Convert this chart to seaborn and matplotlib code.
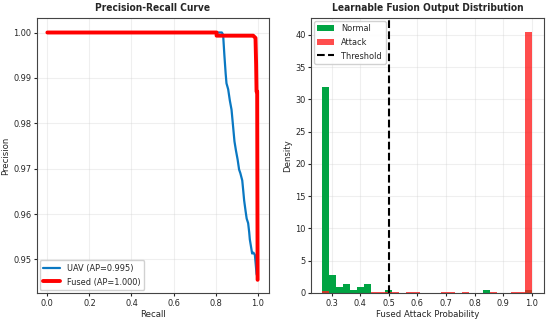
import numpy as np
import pandas as pd
import matplotlib
matplotlib.use("Agg")
import matplotlib.pyplot as plt
from matplotlib import font_manager
from matplotlib.patches import Patch
from matplotlib.lines import Line2D
import seaborn as sns

# ---------------- data ----------------
uav_recall = [0.0, 0.815, 0.830, 0.836, 0.842, 0.848, 0.852, 0.860, 0.868, 0.876, 0.884,
              0.890, 0.897, 0.905, 0.912, 0.918, 0.927, 0.932, 0.936, 0.943, 0.948,
              0.955, 0.960, 0.963, 0.968, 0.974, 0.980, 0.987, 0.991, 0.995, 0.997]
uav_precision = [1.0, 1.0, 1.0, 0.9995, 0.995, 0.991, 0.9888, 0.9875, 0.985, 0.983, 0.979,
                 0.976, 0.974, 0.972, 0.9698, 0.969, 0.9674, 0.965, 0.963, 0.9606, 0.959,
                 0.958, 0.956, 0.9544, 0.953, 0.9513, 0.9515, 0.951, 0.949, 0.9468, 0.9465]

fused_recall = [0.0, 0.805, 0.805, 0.979, 0.990, 0.993, 0.995, 0.998, 1.0]
fused_precision = [1.0, 1.0, 0.9993, 0.9993, 0.9988, 0.993, 0.987, 0.987, 0.9455]

uav_label = "UAV (AP=0.995)"
fused_label = "Fused (AP=1.000)"

# histogram: 30 shared bins, density values read per bin
bin_lo, bin_hi, n_bins = 0.267, 1.0, 30
normal_density = [31.85, 2.8, 0.9, 1.35, 0.45, 0.9, 1.35, 0, 0, 0.45,
                  0, 0, 0, 0, 0, 0, 0, 0, 0, 0,
                  0, 0, 0, 0.45, 0, 0, 0, 0, 0, 0.45]
attack_density = [0.3, 0, 0, 0, 0, 0, 0, 0.12, 0.12, 0.12,
                  0.12, 0, 0.12, 0.12, 0, 0, 0, 0.12, 0.12, 0,
                  0.12, 0, 0, 0, 0.12, 0, 0, 0.12, 0.12, 40.37]
threshold = 0.5

# ---------------- font choice (narrow face if available) ----------------
def pick_font():
    for fam, stretch, key in [("Liberation Sans Narrow", "normal", "Narrow"),
                              ("DejaVu Sans", "condensed", "Condensed"),
                              ("DejaVu Sans Condensed", "normal", "Condensed")]:
        try:
            f = font_manager.findfont(font_manager.FontProperties(family=fam, stretch=stretch),
                                      fallback_to_default=False)
            if key in f:
                return fam, stretch
        except Exception:
            pass
    return "DejaVu Sans", "normal"

font_family, font_stretch = pick_font()

# ---------------- style ----------------
sns.set_style("ticks")
plt.rcParams['font.family'] = [font_family, 'DejaVu Sans']
plt.rcParams['font.stretch'] = font_stretch
plt.rcParams['axes.edgecolor'] = '#444444'
plt.rcParams['axes.linewidth'] = 0.8

fig = plt.figure(figsize=(5.5, 3.27), dpi=100)
ax1 = fig.add_axes([0.067, 0.104, 0.422, 0.841])
ax2 = fig.add_axes([0.5655, 0.104, 0.4236, 0.841])

narrow = font_family != "DejaVu Sans" or font_stretch != "normal"
tick_fs = 6.6 if narrow else 5.8
label_fs = 6.8 if narrow else 6.2
title_fs = 7.3 if narrow else 6.6
legend_fs = 6.6 if narrow else 5.8

# ---------------- left: PR curve ----------------
sns.lineplot(x=uav_recall, y=uav_precision, sort=False, estimator=None,
             color='#0a78c2', linewidth=1.6, ax=ax1)
sns.lineplot(x=fused_recall, y=fused_precision, sort=False, estimator=None,
             color='#ff0000', linewidth=2.8, ax=ax1)
ax1.set_xticks([0.0, 0.2, 0.4, 0.6, 0.8, 1.0])
ax1.set_yticks([0.95, 0.96, 0.97, 0.98, 0.99, 1.00])
ax1.yaxis.set_major_formatter(matplotlib.ticker.FormatStrFormatter('%.2f'))
ax1.set_xlim(-0.05, 1.054)
ax1.set_ylim(0.9426, 1.0032)
ax1.grid(True, alpha=0.3)
ax1.set_xlabel("Recall", fontsize=label_fs, labelpad=2)
ax1.set_ylabel("Precision", fontsize=label_fs, labelpad=2)
ax1.set_title("Precision-Recall Curve", fontsize=title_fs, fontweight='bold', pad=5)
ax1.tick_params(labelsize=tick_fs, length=2.5, pad=1.5)
h1 = [Line2D([], [], color='#0a78c2', linewidth=1.6),
      Line2D([], [], color='#ff0000', linewidth=2.8)]
ax1.legend(h1, [uav_label, fused_label], loc='lower left', fontsize=legend_fs,
           frameon=True, framealpha=0.9, handlelength=1.8, borderpad=0.4,
           labelspacing=0.5, borderaxespad=0.3)

# ---------------- right: histogram ----------------
edges = list(np.linspace(bin_lo, bin_hi, n_bins + 1))
centers = [(edges[i] + edges[i + 1]) / 2 for i in range(n_bins)]
df_normal = pd.DataFrame({"p": centers, "w": normal_density})
df_attack = pd.DataFrame({"p": centers, "w": attack_density})
sns.histplot(data=df_normal, x="p", weights="w", bins=edges, stat='count',
             color='#00a443', alpha=1.0, linewidth=0, ax=ax2)
sns.histplot(data=df_attack, x="p", weights="w", bins=edges, stat='count',
             color='#ff2020', alpha=0.8, linewidth=0, ax=ax2)
ax2.axvline(threshold, color='black', linestyle='--', linewidth=1.5)
ax2.set_xticks([0.3, 0.4, 0.5, 0.6, 0.7, 0.8, 0.9, 1.0])
ax2.set_yticks([0, 5, 10, 15, 20, 25, 30, 35, 40])
ax2.set_xlim(0.2276, 1.043)
ax2.set_ylim(0, 42.6)
ax2.grid(True, alpha=0.3)
ax2.set_xlabel("Fused Attack Probability", fontsize=label_fs, labelpad=2)
ax2.set_ylabel("Density", fontsize=label_fs, labelpad=2)
ax2.set_title("Learnable Fusion Output Distribution", fontsize=title_fs,
              fontweight='bold', pad=5)
ax2.tick_params(labelsize=tick_fs, length=2.5, pad=1.5)
h2 = [Patch(facecolor='#00a443', edgecolor='none'),
      Patch(facecolor='#ff2020', alpha=0.8, edgecolor='none'),
      Line2D([], [], color='black', linestyle='--', linewidth=1.5)]
ax2.legend(h2, ['Normal', 'Attack', 'Threshold'], loc='upper left', fontsize=legend_fs,
           frameon=True, framealpha=0.9, handlelength=1.8, borderpad=0.4,
           labelspacing=0.5, borderaxespad=0.3)

fig.savefig("out.png", dpi=100)
